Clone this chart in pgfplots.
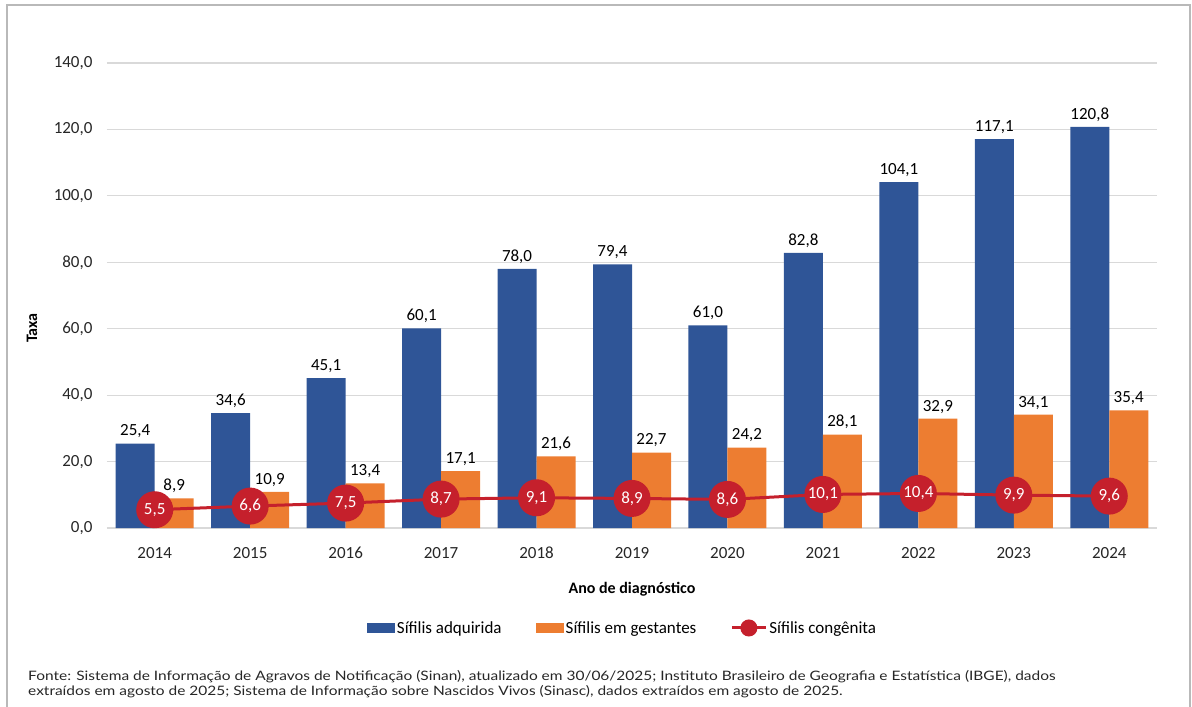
\documentclass[border=0pt]{standalone}
\usepackage{fontspec}
\setmainfont{Carlito}
\newfontfamily\notefont[FakeStretch=1.19]{Lato}
\usepackage{pgfplots}
\pgfplotsset{compat=1.18}
\definecolor{adq}{HTML}{2F5597}
\definecolor{ges}{HTML}{ED7D31}
\definecolor{con}{HTML}{C5202C}
\definecolor{txt}{HTML}{262626}

\begin{document}
\begin{tikzpicture}[x=1pt,y=1pt]
\useasboundingbox (-107,-179) rectangle (1085,528);
\draw[gray!55, line width=1.2pt] (-100,-179) -- (-100,523) -- (1083,523) -- (1083,-179);
\begin{axis}[
    at={(0,0)}, anchor=south west,
    scale only axis,
    width=1050pt, height=465pt,
    ybar=0pt, bar width=39pt,
    xmin=-0.5, xmax=10.5,
    ymin=0, ymax=140,
    ytick={0,20,...,140},
    xtick={0,...,10},
    xticklabels={2014,2015,2016,2017,2018,2019,2020,2021,2022,2023,2024},
    major tick length=0pt,
    axis line style={draw=none},
    ymajorgrids=true,
    grid style={gray!30, line width=1.2pt},
    /pgf/number format/.cd, use comma, fixed, fixed zerofill, precision=1, assume math mode=true,
    /pgfplots/.cd,
    tick label style={font=\fontsize{17}{19}\selectfont, text=txt},
    yticklabel style={xshift=-11pt},
    xticklabel style={yshift=-15pt, text height=12pt, text depth=0pt},
    xlabel={\bfseries Ano de diagnóstico},
    xlabel style={at={(axis description cs:0.5,-0.131)}, anchor=center, font=\fontsize{16}{18}\selectfont},
    ylabel={\bfseries Taxa},
    ylabel style={at={(axis description cs:-0.0714,0.43)}, anchor=center, font=\fontsize{16}{18}\selectfont},
    legend style={at={(0.491,-0.215)}, anchor=center, draw=none, fill=none,
        legend columns=3, font=\fontsize{17}{19}\selectfont,
        /tikz/every even column/.append style={column sep=32pt}},
    legend cell align=left,
    clip=false,
]
\addplot[fill=adq, draw=none,
    nodes near coords, nodes near coords style={font=\fontsize{17}{19}\selectfont, text=black, yshift=2pt},
    legend image code/.code={\fill[adq] (0pt,-5pt) rectangle (28pt,5pt);}]
    coordinates {(0,25.4) (1,34.6) (2,45.1) (3,60.1) (4,78.0) (5,79.4) (6,61.0) (7,82.8) (8,104.1) (9,117.1) (10,120.8)};
\addlegendentry{Sífilis adquirida}
\addplot[fill=ges, draw=none,
    nodes near coords, nodes near coords style={font=\fontsize{17}{19}\selectfont, text=black, yshift=2pt},
    legend image code/.code={\fill[ges] (0pt,-5pt) rectangle (28pt,5pt);}]
    coordinates {(0,8.9) (1,10.9) (2,13.4) (3,17.1) (4,21.6) (5,22.7) (6,24.2) (7,28.1) (8,32.9) (9,34.1) (10,35.4)};
\addlegendentry{Sífilis em gestantes}
\addplot[sharp plot, con, line width=3pt, mark=*, mark size=17pt, mark options={fill=con, draw=con},
    nodes near coords, nodes near coords style={anchor=center, text=white, font=\fontsize{17}{19}\selectfont},
    legend image code/.code={\draw[con, line width=3pt] (0pt,0pt) -- (34pt,0pt); \fill[con] (17pt,0pt) circle (7pt);}]
    coordinates {(0,5.5) (1,6.6) (2,7.5) (3,8.7) (4,9.1) (5,8.9) (6,8.6) (7,10.1) (8,10.4) (9,9.9) (10,9.6)};
\addlegendentry{Sífilis congênita}
\end{axis}
\node[anchor=west, font=\notefont\fontsize{13}{15}\selectfont, text=txt, inner sep=0pt] at (-79,-149)
    {Fonte: Sistema de Informação de Agravos de Notificação (Sinan), atualizado em 30/06/2025; Instituto Brasileiro de Geografia e Estatística (IBGE), dados};
\node[anchor=west, font=\notefont\fontsize{13}{15}\selectfont, text=txt, inner sep=0pt] at (-79,-164)
    {extraídos em agosto de 2025; Sistema de Informação sobre Nascidos Vivos (Sinasc), dados extraídos em agosto de 2025.};
\end{tikzpicture}
\end{document}
